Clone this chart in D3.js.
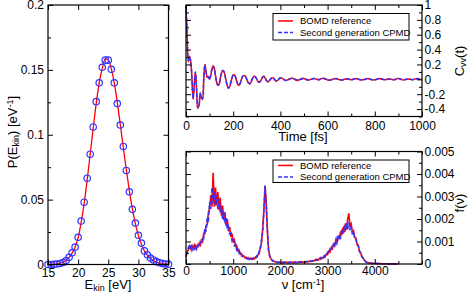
<!DOCTYPE html>
<html>
<head>
<meta charset="utf-8">
<script src="https://cdn.jsdelivr.net/npm/d3@7"></script>
<style>
  body { margin: 0; background: #fff; }
  svg { display: block; }
</style>
</head>
<body>
<script>
// ---- data ----
// kinetic energy distribution, 0.5 eV grid from 15 to 35 eV
const ekinGrid = d3.range(15, 35.01, 0.5);
const pSampled = [0, 0, 0.0002, 0.0004, 0.0008, 0.0015, 0.003, 0.0055, 0.009, 0.0135,
  0.021, 0.0335, 0.048, 0.0665, 0.085, 0.106, 0.1255, 0.14, 0.152, 0.1575,
  0.1575, 0.1505, 0.14, 0.124, 0.1075, 0.091, 0.0725, 0.056, 0.0425, 0.032,
  0.0225, 0.0165, 0.0105, 0.0075, 0.005, 0.0035, 0.0022, 0.0013, 0.0008, 0.0004,
  0.0002];
const pReference = [0, 0.0001, 0.0002, 0.0005, 0.001, 0.0018, 0.0032, 0.0055, 0.0088, 0.0135,
  0.0205, 0.0325, 0.047, 0.065, 0.085, 0.105, 0.124, 0.14, 0.151, 0.1585,
  0.158, 0.151, 0.14, 0.125, 0.108, 0.09, 0.073, 0.057, 0.043, 0.0315,
  0.0225, 0.0155, 0.0105, 0.007, 0.0046, 0.003, 0.0019, 0.0012, 0.0007, 0.0004,
  0.0002];

// velocity autocorrelation, 5 fs steps to 400 fs then 10 fs steps to 1000 fs
const cvvTime = d3.range(0, 401, 5).concat(d3.range(410, 1001, 10));
const cvvBomd = [1.00, 0.57, 0.24, 0.31, 0.24, 0.02, -0.27, -0.08, 0.10, -0.14,
  -0.38, -0.36, -0.19, -0.24, -0.27, -0.02, 0.20, 0.11, 0.03, 0.04,
  0.00, 0.05, 0.14, 0.18, 0.15, 0.05, -0.04, -0.08, -0.07, 0.01,
  0.08, 0.12, 0.11, 0.06, -0.02, -0.09, -0.12, -0.10, -0.04, 0.02,
  0.06, 0.06, 0.03, -0.03, -0.07, -0.08, -0.05, 0.00, 0.04, 0.05,
  0.05, 0.02, -0.02, -0.05, -0.06, -0.04, 0.00, 0.03, 0.04, 0.03,
  0.00, -0.03, -0.04, -0.03, 0.00, 0.03, 0.04, 0.02, -0.01, -0.03,
  -0.03, -0.01, 0.01, 0.02, 0.02, 0.00, -0.02, -0.02, -0.01, 0.01,
  0.02,
  0.01, -0.015, -0.01, 0.01, 0.015, 0.0, -0.015, -0.005, 0.01, 0.01,
  -0.005, -0.01, 0.0, 0.01, 0.005, -0.005, 0.005, 0.015, 0.005, -0.01,
  -0.01, 0.0, 0.01, 0.005, -0.005, -0.01, 0.0, 0.005, 0.0, -0.005,
  0.005, 0.01, 0.0, -0.01, -0.005, 0.005, 0.01, 0.0, -0.01, -0.005,
  0.005, 0.01, 0.0, -0.005, 0.0, 0.005, 0.0, -0.005, 0.005, 0.01,
  0.0, -0.01, 0.0, 0.005, 0.0, -0.005, 0.005, 0.01, 0.0, 0.0];
const cvvCpmd = [1.00, 0.58, 0.25, 0.30, 0.25, 0.01, -0.26, -0.07, 0.10, -0.15,
  -0.39, -0.35, -0.18, -0.25, -0.26, -0.01, 0.20, 0.10, 0.03, 0.03,
  0.00, 0.06, 0.14, 0.18, 0.14, 0.05, -0.04, -0.08, -0.06, 0.01,
  0.08, 0.12, 0.11, 0.05, -0.02, -0.09, -0.12, -0.09, -0.04, 0.02,
  0.06, 0.06, 0.03, -0.02, -0.07, -0.08, -0.05, 0.00, 0.04, 0.05,
  0.05, 0.02, -0.02, -0.05, -0.06, -0.03, 0.00, 0.03, 0.04, 0.03,
  0.00, -0.03, -0.04, -0.02, 0.01, 0.03, 0.04, 0.02, -0.01, -0.03,
  -0.03, -0.01, 0.01, 0.02, 0.02, 0.00, -0.02, -0.02, -0.01, 0.01,
  0.02,
  0.005, -0.01, -0.015, 0.005, 0.015, 0.005, -0.01, -0.01, 0.005, 0.015,
  0.0, -0.01, -0.005, 0.01, 0.01, -0.005, 0.0, 0.01, 0.01, -0.005,
  -0.01, -0.005, 0.005, 0.01, 0.0, -0.01, -0.005, 0.005, 0.005, -0.005,
  0.0, 0.01, 0.005, -0.005, -0.01, 0.0, 0.01, 0.005, -0.005, -0.01,
  0.0, 0.01, 0.005, -0.005, -0.005, 0.005, 0.005, -0.005, 0.0, 0.01,
  0.005, -0.005, -0.005, 0.005, 0.005, -0.005, 0.0, 0.01, 0.005, 0.0];

// vibrational spectrum, 25 cm^-1 grid from 0 to 4500, values in units of 1e-3
const nuGrid = d3.range(0, 4501, 25);
const specBomd = [0.30, 0.55, 0.62, 0.80, 0.68, 0.82, 0.66, 0.84, 0.70, 0.80,
  0.75, 0.90, 0.82, 1.05, 0.98, 1.35, 1.35, 1.70, 1.75, 2.30,
  2.45, 3.05, 2.55, 4.05, 2.55, 3.40, 2.60, 3.20, 2.40, 2.95,
  2.15, 2.60, 1.95, 2.30, 1.70, 2.00, 1.45, 1.65, 1.20, 1.35,
  1.00, 1.08, 0.78, 0.82, 0.58, 0.62, 0.44, 0.46, 0.34, 0.36,
  0.27, 0.30, 0.23, 0.27, 0.21, 0.26, 0.21, 0.27, 0.23, 0.32,
  0.29, 0.42, 0.46, 0.76, 0.92, 1.60, 2.40, 3.45, 2.75, 1.40,
  0.65, 0.33, 0.24, 0.16, 0.13, 0.11, 0.09, 0.10, 0.06, 0.09,
  0.06, 0.08, 0.05, 0.09, 0.06, 0.08, 0.05, 0.07, 0.06, 0.09,
  0.05, 0.08, 0.06, 0.09, 0.06, 0.08, 0.07, 0.10, 0.07, 0.09,
  0.08, 0.11, 0.08, 0.12, 0.10, 0.13, 0.11, 0.15, 0.13, 0.17,
  0.15, 0.21, 0.17, 0.24, 0.21, 0.29, 0.26, 0.36, 0.32, 0.45,
  0.42, 0.57, 0.52, 0.72, 0.66, 0.88, 0.80, 1.08, 0.95, 1.26,
  1.10, 1.45, 1.28, 1.62, 1.40, 1.80, 1.52, 2.00, 2.25, 1.65,
  1.78, 1.42, 1.48, 1.18, 1.15, 0.88, 0.84, 0.58, 0.50, 0.34,
  0.28, 0.17, 0.13, 0.08, 0.07, 0.05, 0.045, 0.035, 0.03, 0.03,
  0.025, 0.02, 0.02, 0.02, 0.015, 0.015, 0.01, 0.01, 0.01, 0.008,
  0.008, 0.006, 0.006, 0.005, 0.005, 0.004, 0.004, 0.003, 0.003, 0.002,
  0.002];
const specCpmd = [0.40, 0.50, 0.74, 0.64, 0.84, 0.62, 0.78, 0.68, 0.82, 0.66,
  0.84, 0.76, 0.98, 0.92, 1.20, 1.15, 1.60, 1.45, 2.05, 1.95,
  2.75, 2.45, 3.40, 2.70, 3.20, 2.60, 3.05, 2.45, 2.90, 2.30,
  2.55, 2.00, 2.35, 1.80, 2.05, 1.55, 1.75, 1.30, 1.45, 1.05,
  1.15, 0.82, 0.88, 0.62, 0.66, 0.48, 0.50, 0.36, 0.38, 0.30,
  0.31, 0.25, 0.26, 0.21, 0.25, 0.21, 0.25, 0.22, 0.28, 0.27,
  0.36, 0.36, 0.55, 0.65, 1.10, 1.40, 2.35, 3.50, 2.55, 1.55,
  0.55, 0.34, 0.22, 0.17, 0.12, 0.11, 0.08, 0.09, 0.07, 0.07,
  0.08, 0.05, 0.07, 0.06, 0.08, 0.05, 0.07, 0.06, 0.08, 0.06,
  0.08, 0.06, 0.08, 0.06, 0.09, 0.07, 0.09, 0.07, 0.10, 0.08,
  0.10, 0.09, 0.11, 0.10, 0.12, 0.11, 0.14, 0.13, 0.16, 0.15,
  0.20, 0.17, 0.23, 0.20, 0.28, 0.24, 0.33, 0.29, 0.40, 0.37,
  0.52, 0.47, 0.66, 0.60, 0.80, 0.73, 0.97, 0.88, 1.15, 1.03,
  1.32, 1.18, 1.52, 1.35, 1.70, 1.45, 1.82, 1.55, 1.85, 1.50,
  1.68, 1.35, 1.42, 1.12, 1.10, 0.85, 0.80, 0.56, 0.48, 0.32,
  0.26, 0.16, 0.13, 0.07, 0.07, 0.045, 0.045, 0.03, 0.035, 0.025,
  0.024, 0.022, 0.018, 0.02, 0.016, 0.014, 0.012, 0.01, 0.009, 0.008,
  0.007, 0.007, 0.006, 0.005, 0.005, 0.004, 0.003, 0.003, 0.003, 0.002,
  0.002];

const legendNames = ["BOMD reference", "Second generation CPMD"];

// tick values
const ekinTicks = [15, 20, 25, 30, 35];
const pTicks = [0, 0.05, 0.1, 0.15, 0.2];
const pMinor = [0.025, 0.075, 0.125, 0.175];
const timeTicks = [0, 200, 400, 600, 800, 1000];
const timeMinor = [100, 300, 500, 700, 900];
const cvvTicks = [-0.4, -0.2, 0, 0.2, 0.4, 0.6, 0.8, 1];
const cvvMinor = [-0.5, -0.3, -0.1, 0.1, 0.3, 0.5, 0.7, 0.9];
const nuTicks = [0, 1000, 2000, 3000, 4000];
const nuMinor = [500, 1500, 2500, 3500, 4500, 5000];
const fTicks = [0, 1, 2, 3, 4, 5];
const fMinor = [0.5, 1.5, 2.5, 3.5, 4.5];

// ---- drawing ----
const FONT = "'Liberation Sans', Arial, Helvetica, sans-serif";
const RED = "#ff0000";
const BLUE = "#3333ff";

const svg = d3.select("body").append("svg")
  .attr("width", 469)
  .attr("height", 296);

// draws the boxed frame with inward ticks on all four sides
function frame(x, y, o) {
  const [xl, xr] = x.range();
  const [yb, yt] = y.range();
  const g = svg.append("g");

  function axis(gen, tx, ty, vals, size, fmt, pad) {
    const a = g.append("g")
      .attr("transform", `translate(${tx},${ty})`)
      .call(gen.tickValues(vals).tickSize(size).tickPadding(pad).tickFormat(fmt));
    a.select(".domain").remove();
    a.attr("font-family", FONT).attr("font-size", 12);
    a.selectAll("line").attr("stroke", "#000");
    a.selectAll("text").attr("fill", "#000");
    return a;
  }
  const none = () => "";

  axis(d3.axisBottom(x), 0, yb, o.xTicks, -5, o.xFmt, o.xPad);
  axis(d3.axisTop(x), 0, yt, o.xTicks, -5, none, 0);
  if (o.xMinor) {
    axis(d3.axisBottom(x), 0, yb, o.xMinor, -3, none, 0);
    axis(d3.axisTop(x), 0, yt, o.xMinor, -3, none, 0);
  }
  axis(d3.axisLeft(y), xl, 0, o.yTicks, -5, o.yRight ? none : o.yFmt, 4);
  axis(d3.axisRight(y), xr, 0, o.yTicks, -5, o.yRight ? o.yFmt : none, 2.5);
  axis(d3.axisLeft(y), xl, 0, o.yMinor, -3, none, 0);
  axis(d3.axisRight(y), xr, 0, o.yMinor, -3, none, 0);

  g.append("rect")
    .attr("x", xl).attr("y", yt)
    .attr("width", xr - xl).attr("height", yb - yt)
    .attr("fill", "none")
    .attr("stroke", "#000")
    .attr("stroke-width", 1.2);
  return g;
}

function legend(x0, y0, h) {
  const g = svg.append("g").attr("font-family", FONT).attr("font-size", 9.5);
  g.append("rect")
    .attr("x", x0).attr("y", y0)
    .attr("width", 136).attr("height", h)
    .attr("fill", "#fff").attr("stroke", "#000").attr("stroke-width", 1);
  const c = y0 + h / 2;
  [[RED, null], [BLUE, "4,2"]].forEach(([col, dash], i) => {
    const ly = c + (i - 0.5) * 11.6;
    g.append("line")
      .attr("x1", x0 + 5).attr("x2", x0 + 20)
      .attr("y1", ly).attr("y2", ly)
      .attr("stroke", col).attr("stroke-width", 1.5)
      .attr("stroke-dasharray", dash);
    g.append("text")
      .attr("x", x0 + 27).attr("y", ly)
      .attr("dy", "0.35em")
      .text(legendNames[i]);
  });
}

function label(x, y, rot, parts) {
  const t = svg.append("text")
    .attr("font-family", FONT)
    .attr("font-size", 13)
    .attr("text-anchor", "middle")
    .attr("transform", `translate(${x},${y}) rotate(${rot})`);
  parts.forEach(([s, kind]) => {
    const span = t.append("tspan").text(s);
    if (kind === "sub") span.attr("baseline-shift", "-25%").attr("font-size", 9);
    if (kind === "sup") span.attr("baseline-shift", "40%").attr("font-size", 9);
  });
}

// ---- left panel: kinetic energy distribution ----
const xE = d3.scaleLinear().domain([15, 35]).range([48, 168.5]);
const yP = d3.scaleLinear().domain([0, 0.2]).range([264.5, 5]);

svg.append("path")
  .datum(pReference)
  .attr("fill", "none")
  .attr("stroke", RED)
  .attr("stroke-width", 1.3)
  .attr("d", d3.line()
    .x((d, i) => xE(ekinGrid[i]))
    .y(d => yP(d))
    .curve(d3.curveMonotoneX));

svg.append("g")
  .selectAll("circle")
  .data(pSampled)
  .join("circle")
  .attr("cx", (d, i) => xE(ekinGrid[i]))
  .attr("cy", d => yP(d))
  .attr("r", 3.2)
  .attr("fill", "none")
  .attr("stroke", BLUE)
  .attr("stroke-width", 1.2);

frame(xE, yP, {
  xTicks: ekinTicks, xFmt: d => String(d), xPad: 3.5,
  yTicks: pTicks, yMinor: pMinor, yFmt: d => String(d), yRight: false
});

label(108, 289, 0, [["E"], ["kin", "sub"], [" [eV]"]]);
label(17, 132, -90, [["P(E"], ["kin", "sub"], [")  [eV"], ["-1", "sup"], ["]"]]);

// ---- top right: velocity autocorrelation ----
const xT = d3.scaleLinear().domain([0, 1000]).range([186, 422]);
const yC = d3.scaleLinear().domain([-0.5, 1]).range([116.5, 5]);

const cvvLine = d3.line()
  .x((d, i) => xT(cvvTime[i]))
  .y(d => yC(d))
  .curve(d3.curveCatmullRom);

svg.append("path").datum(cvvBomd)
  .attr("fill", "none").attr("stroke", RED).attr("stroke-width", 1.5)
  .attr("d", cvvLine);
svg.append("path").datum(cvvCpmd)
  .attr("fill", "none").attr("stroke", BLUE).attr("stroke-width", 1.5)
  .attr("stroke-dasharray", "4,2")
  .attr("d", cvvLine);

frame(xT, yC, {
  xTicks: timeTicks, xMinor: timeMinor, xFmt: d => String(d), xPad: 4.5,
  yTicks: cvvTicks, yMinor: cvvMinor, yFmt: d => String(d), yRight: true
});
legend(273, 13.5, 26.5);

label(303, 141, 0, [["Time [fs]"]]);
label(464, 61, -90, [["C"], ["vv", "sub"], ["(t)"]]);

// ---- bottom right: vibrational spectrum ----
const xN = d3.scaleLinear().domain([0, 5000]).range([186, 422]);
const yF = d3.scaleLinear().domain([0, 5]).range([264, 151.5]);

const specLine = d3.line()
  .x((d, i) => xN(nuGrid[i]))
  .y(d => yF(d));

svg.append("path").datum(specBomd)
  .attr("fill", "none").attr("stroke", RED).attr("stroke-width", 1.6)
  .attr("d", specLine);
svg.append("path").datum(specCpmd)
  .attr("fill", "none").attr("stroke", BLUE).attr("stroke-width", 1.6)
  .attr("stroke-dasharray", "4,2")
  .attr("d", specLine);

frame(xN, yF, {
  xTicks: nuTicks, xMinor: nuMinor, xFmt: d => String(d), xPad: 2.5,
  yTicks: fTicks, yMinor: fMinor, yFmt: d => d === 0 ? "0" : String(d / 1000), yRight: true
});
legend(273, 160, 22.5);

label(303, 289, 0, [["ν [cm"], ["-1", "sup"], ["]"]]);
label(464, 203, -90, [["f(ν)"]]);
</script>
</body>
</html>
